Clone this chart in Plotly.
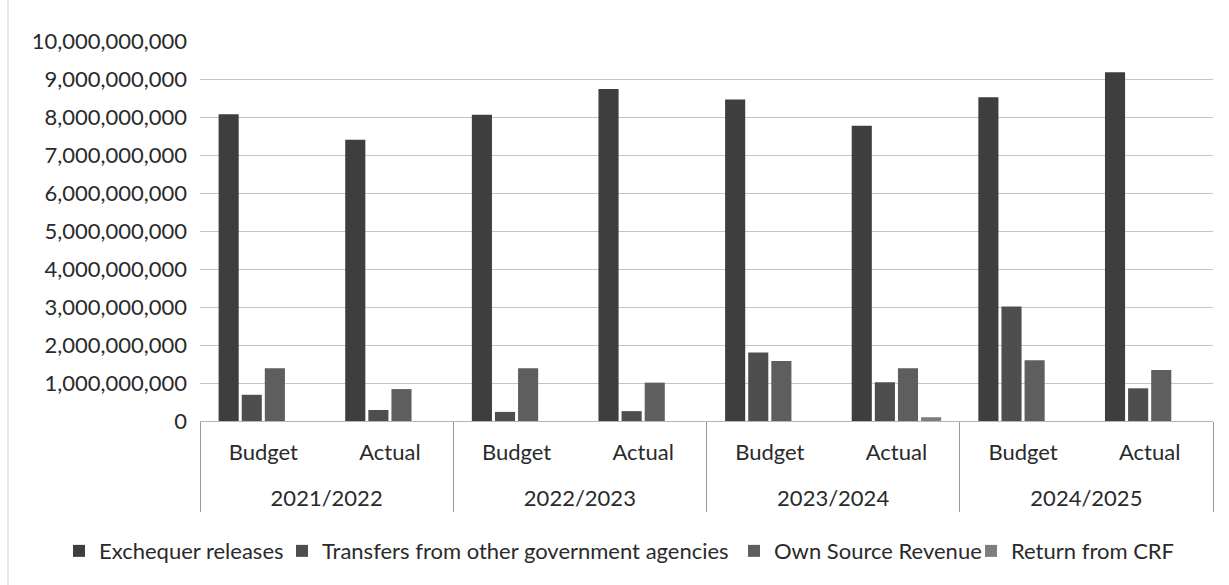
import plotly.graph_objects as go

years = ["2021/2022", "2021/2022", "2022/2023", "2022/2023",
         "2023/2024", "2023/2024", "2024/2025", "2024/2025"]
kinds = ["Budget", "Actual"] * 4

exchequer = [8.07e9, 7.40e9, 8.06e9, 8.74e9, 8.46e9, 7.77e9, 8.52e9, 9.18e9]
transfers = [0.69e9, 0.29e9, 0.24e9, 0.26e9, 1.80e9, 1.02e9, 3.01e9, 0.86e9]
own_source = [1.39e9, 0.84e9, 1.39e9, 1.01e9, 1.58e9, 1.39e9, 1.60e9, 1.34e9]
return_crf = [0, 0, 0, 0, 0, 0.10e9, 0, 0]

series = [
    ("Exchequer releases", exchequer, "#3e3e3e"),
    ("Transfers from other government agencies", transfers, "#4e4e4e"),
    ("Own Source Revenue", own_source, "#5e5e5e"),
    ("Return from CRF", return_crf, "#7e7e7e"),
]

# first-level labels get an extra (blank) line so the year row sits lower
kind_labels = [k + "<br> " for k in kinds]

legend_ids = ["legend", "legend2", "legend3", "legend4"]
legend_left_px = [59, 282, 734, 971]

fig = go.Figure()
for (name, vals, col), lid in zip(series, legend_ids):
    fig.add_trace(go.Bar(name=name, x=[years, kind_labels], y=vals, legend=lid,
                         marker=dict(color=col, line=dict(width=0))))

font_family = "Lato, Carlito, 'Open Sans', sans-serif"
legend_layouts = {}
for lid, px in zip(legend_ids, legend_left_px):
    legend_layouts[lid] = dict(
        orientation="h", xref="container", x=px / 1229, xanchor="left",
        yref="container", y=0.058, yanchor="middle",
        font=dict(size=22, color="#2a2a2a"), itemwidth=30,
        bgcolor="rgba(0,0,0,0)")

fig.update_layout(
    width=1229, height=585,
    margin=dict(l=200, r=16, t=41, b=164, autoexpand=False),
    paper_bgcolor="white", plot_bgcolor="white",
    barmode="group", bargap=0.27, bargroupgap=0.13,
    font=dict(family=font_family, size=22, color="#2a2a2a"),
    showlegend=True,
    yaxis=dict(range=[0, 1e10], dtick=1e9, tickformat=",d",
               showgrid=True, gridcolor="#c4c4c4", gridwidth=1,
               zeroline=False, showline=False, ticks="", ticklen=0,
               ticklabelstandoff=12, automargin=False,
               tickfont=dict(size=22, color="#2a2a2a")),
    xaxis=dict(type="multicategory", showline=True, linecolor="#b5b5b5",
               linewidth=1, showdividers=True, dividercolor="#9a9a9a",
               dividerwidth=1, ticks="", ticklabelstandoff=12, automargin=False,
               tickfont=dict(size=22, color="#2a2a2a")),
    shapes=[dict(type="line", xref="paper", yref="paper",
                 x0=-192 / 1013, x1=-192 / 1013, y0=-164 / 380, y1=1 + 41 / 380,
                 line=dict(color="#d0d0d0", width=1))],
    **legend_layouts,
)

fig.write_html("out.html")
